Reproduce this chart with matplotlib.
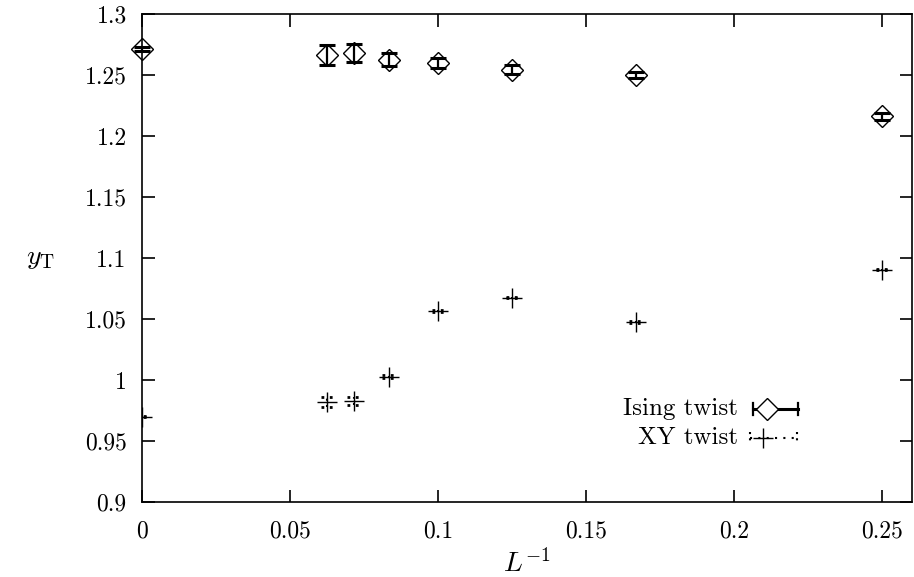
import matplotlib
matplotlib.use("Agg")
import matplotlib.pyplot as plt
import numpy as np
from matplotlib.lines import Line2D

plt.rcParams['font.family'] = 'serif'
plt.rcParams['font.serif'] = ['cmr10']
plt.rcParams['mathtext.fontset'] = 'cm'
plt.rcParams['axes.formatter.use_mathtext'] = True

# Data
inv_L = [0.0, 1/16, 1/14, 1/12, 0.1, 0.125, 1/6, 0.25]
ising_y = [1.2715, 1.2665, 1.2680, 1.2625, 1.2600, 1.2545, 1.2500, 1.2160]
ising_err = [0.0015, 0.0085, 0.0075, 0.0055, 0.0040, 0.0035, 0.0025, 0.0025]
xy_y = [0.9700, 0.9817, 0.9828, 1.0027, 1.0566, 1.0675, 1.0475, 1.0905]
xy_err = [0.0005, 0.0040, 0.0032, 0.0012, 0.0005, 0.0005, 0.0005, 0.0005]
xticks = [0, 0.05, 0.1, 0.15, 0.2, 0.25]
xticklabels = ['0', '0.05', '0.1', '0.15', '0.2', '0.25']
yticks = [0.9, 0.95, 1.0, 1.05, 1.1, 1.15, 1.2, 1.25, 1.3]
yticklabels = ['0.9', '0.95', '1', '1.05', '1.1', '1.15', '1.2', '1.25', '1.3']

fig = plt.figure(figsize=(9.14, 5.77), dpi=100)
ax = fig.add_axes([142/914, 75/577, 770/914, 488/577])

x = np.array(inv_L)
# Ising twist
ax.errorbar(x, ising_y, yerr=ising_err, fmt='none', ecolor='black',
            elinewidth=1.6, capsize=6, capthick=2.2, clip_on=False, zorder=3)
ax.plot(x, ising_y, ls='none', marker='D', ms=11, mfc='none', mec='black',
        mew=1.0, clip_on=False, zorder=4)

# XY twist
xe = np.array(xy_err)
yv = np.array(xy_y)
ax.vlines(x, yv - xe, yv + xe, colors='black', linestyles=(0, (1, 2)),
          lw=1.5, zorder=3)
capw = 0.0022
ax.hlines(yv - xe, x - capw, x + capw, colors='black', linestyles=(0, (1, 2)), lw=2.0, zorder=3)
ax.hlines(yv + xe, x - capw, x + capw, colors='black', linestyles=(0, (1, 2)), lw=2.0, zorder=3)
ax.plot(x, xy_y, ls='none', marker='+', ms=15, mec='black', mew=1.0,
        clip_on=True, zorder=4)

ax.set_xlim(0, 0.26)
ax.set_ylim(0.9, 1.3)
ax.set_xticks(xticks)
ax.set_xticklabels(xticklabels)
ax.set_yticks(yticks)
ax.set_yticklabels(yticklabels)
ax.tick_params(direction='in', length=9, width=1.2, top=True, right=True,
               labelsize=17)
ax.tick_params(axis='x', pad=13)
ax.tick_params(axis='y', pad=11)
for s in ax.spines.values():
    s.set_linewidth(1.2)

ax.set_xlabel(r'$L^{-1}$', fontsize=20, labelpad=5)
ax.set_ylabel(r'$y_{\mathrm{T}}$', fontsize=20, rotation=0, labelpad=32, va='center')

# Key (gnuplot style)
def px(xp, yp):
    return ((xp - 142) / 770, (502 - yp) / 488)

tx, ty = px(738, 409)
ax.text(tx, ty, 'Ising twist', transform=ax.transAxes, ha='right', va='center', fontsize=18)
tx, ty = px(738, 438)
ax.text(tx, ty, 'XY twist', transform=ax.transAxes, ha='right', va='center', fontsize=18)

x0, y0 = px(753, 409)
x1, _ = px(798, 409)
_, yc1 = px(0, 403)
_, yc2 = px(0, 415)
ax.add_line(Line2D([x0, x1], [y0, y0], transform=ax.transAxes, color='black', lw=2.2))
ax.add_line(Line2D([x0, x0], [yc1, yc2], transform=ax.transAxes, color='black', lw=1.6))
ax.add_line(Line2D([x1, x1], [yc1, yc2], transform=ax.transAxes, color='black', lw=1.6))
mx, _ = px(767, 409)
ax.add_line(Line2D([mx], [y0], transform=ax.transAxes, ls='none', marker='D', ms=11,
                   mfc='white', mec='black', mew=1.0))

x0, y1 = px(750, 438)
x1, _ = px(797, 438)
_, yc1 = px(0, 432)
_, yc2 = px(0, 444)
ax.add_line(Line2D([x0, x1], [y1, y1], transform=ax.transAxes, color='black', lw=1.5, ls=(0, (1, 3))))
ax.add_line(Line2D([x0, x0], [yc1, yc2], transform=ax.transAxes, color='black', lw=1.5, ls=(0, (1, 2))))
ax.add_line(Line2D([x1, x1], [yc1, yc2], transform=ax.transAxes, color='black', lw=1.5, ls=(0, (1, 2))))
mx, _ = px(763, 438)
ax.add_line(Line2D([mx], [y1], transform=ax.transAxes, ls='none', marker='+', ms=15,
                   mec='black', mew=1.0))

fig.savefig('out.png', dpi=100)
